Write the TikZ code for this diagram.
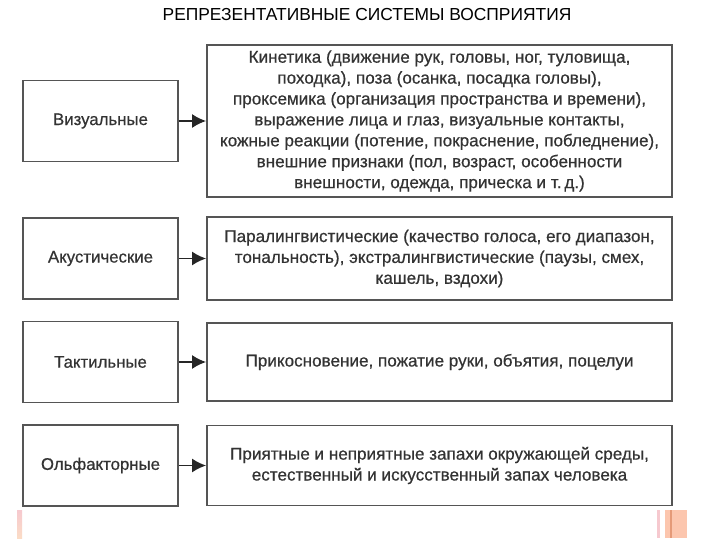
\documentclass[tikz,border=0pt]{standalone}
\usepackage{fontspec}
\setmainfont{Liberation Sans}
\newfontfamily\boxfont[FakeBold=0.6]{Liberation Sans}
\usetikzlibrary{arrows.meta}
\definecolor{boxgray}{HTML}{555555}
\definecolor{textgray}{HTML}{333333}
\definecolor{stripPink}{HTML}{F6C9CF}
\definecolor{stripPeach}{HTML}{FBDCC6}
\definecolor{stripOrange}{HTML}{FCC6AE}
\definecolor{stripDark}{HTML}{E59A78}
\tikzset{arrow/.style={-{Latex[length=14pt,width=14pt]}, draw=black!85, line width=1.8pt}}
\tikzset{kind/.style={draw=boxgray, line width=1.8pt, minimum width=155pt, minimum height=81pt, inner sep=0pt, text=textgray, font=\boxfont\fontsize{16.8}{21}\selectfont}}
\tikzset{detail/.style={draw=boxgray, line width=1.8pt, minimum width=465pt, inner sep=0pt, align=center, text=textgray, font=\boxfont\fontsize{17.1}{20.9}\selectfont}}

\begin{document}
\begin{tikzpicture}[x=1pt, y=-1pt]
      \useasboundingbox (0, 0) rectangle (720, 540);
      \node (title) at (367, 15) {\fontsize{17.4}{20}\selectfont РЕПРЕЗЕНТАТИВНЫЕ СИСТЕМЫ ВОСПРИЯТИЯ};

      \node[kind] (vis) at (100.5, 121) {Визуальные};
      \node[kind] (aku) at (100.5, 258.5) {Акустические};
      \node[kind] (tak) at (100.5, 362) {Тактильные};
      \node[kind] (olf) at (100.5, 465.5) {Ольфакторные};

      \node[detail, minimum height=152pt] (visD) at (439.5, 121) {Кинетика (движение рук, головы, ног, туловища,\\ походка), поза (осанка, посадка головы),\\ проксемика (организация пространства и времени),\\ выражение лица и глаз, визуальные контакты,\\ кожные реакции (потение, покраснение, побледнение),\\ внешние признаки (пол, возраст, особенности\\ внешности, одежда, прическа и т.\,д.)};
      \node[detail, minimum height=83pt] (akuD) at (439.5, 258.5) {Паралингвистические (качество голоса, его диапазон,\\ тональность), экстралингвистические (паузы, смех,\\ кашель, вздохи)};
      \node[detail, minimum height=78pt] (takD) at (439.5, 362) {Прикосновение, пожатие руки, объятия, поцелуи};
      \node[detail, minimum height=80pt] (olfD) at (439.5, 465.5) {Приятные и неприятные запахи окружающей среды,\\ естественный и искусственный запах человека};

      \draw[arrow] (vis) -- (visD);
      \draw[arrow] (aku) -- (akuD);
      \draw[arrow] (tak) -- (takD);
      \draw[arrow] (olf) -- (olfD);

      % strips at the bottom
      \shade[top color=stripPink, bottom color=stripPeach] (17, 510) rectangle (22, 538);
      \fill[stripPink] (657, 510) rectangle (660, 538);
      \fill[stripOrange] (665, 510) rectangle (687, 538);
      \fill[stripDark] (670, 510) rectangle (672, 538);
\end{tikzpicture}
\end{document}
